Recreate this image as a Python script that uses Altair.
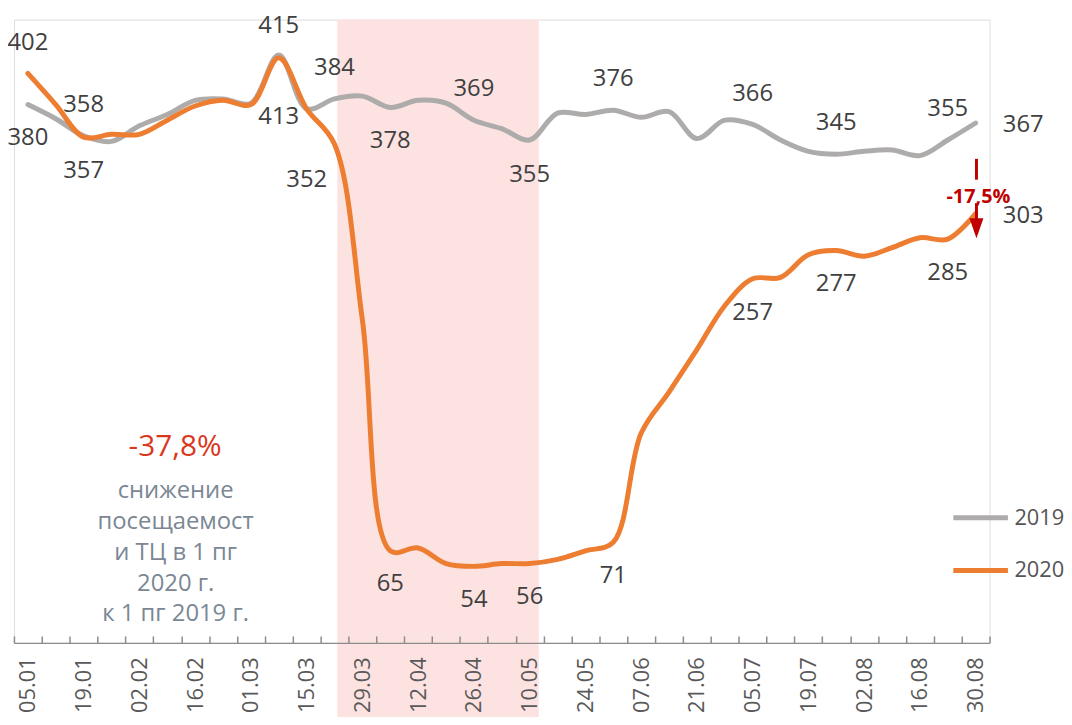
import altair as alt
import pandas as pd

# ---------------- data ----------------
dates = ["05.01", "12.01", "19.01", "26.01", "02.02", "09.02", "16.02", "23.02",
         "01.03", "08.03", "15.03", "22.03", "29.03", "05.04", "12.04", "19.04",
         "26.04", "03.05", "10.05", "17.05", "24.05", "31.05", "07.06", "14.06",
         "21.06", "28.06", "05.07", "12.07", "19.07", "26.07", "02.08", "09.08",
         "16.08", "23.08", "30.08"]

visits_2019 = [380, 370, 358, 354, 365, 373, 383, 384, 381, 415, 377, 384,
               386, 378, 383, 381, 369, 363, 355, 374, 373, 376, 371, 375,
               356, 369, 366, 355, 347, 345, 347, 348, 344, 355, 367]

visits_2020 = [402, 380, 357, 359, 359, 369, 379, 383, 380, 413, 377, 352,
               228, 65, 67, 56, 54, 56, 56, 59, 65, 71, 148, 177,
               207, 238, 257, 258, 274, 277, 273, 279, 286, 285, 303]

series_names = ["2019", "2020"]
labeled_weeks = [0, 2, 9, 11, 13, 16, 18, 21, 26, 29, 33, 34]

lockdown_span = [11.1, 18.33]          # shaded period, in week-index units
summary_value = "-37,8%"
summary_text = "снижение\nпосещаемост\nи ТЦ в 1 пг\n2020 г.\nк 1 пг 2019 г."
end_change = "-17,5%"

# ---------------- layout / style ----------------
FONT = "Open Sans"
W, H = 983, 628
YMAX = 440
GRAY, ORANGE = "#AEABAB", "#ED7D31"
LABEL_COLOR = "#404040"
RED = "#C00000"

# label placement per series: (dx, dy) in pixels
place_2019 = {0: (0, 34), 9: (0, -29), 13: (0, 34), 18: (0, 35), 34: (48, 2)}
place_2020 = {0: (0, -31), 9: (0, 60), 11: (-28, 36), 34: (48, 2)}
default_2019 = (0, -31)
default_2020 = (0, 34)

rows = []
for name, vals in zip(series_names, [visits_2019, visits_2020]):
    for i, v in enumerate(vals):
        rows.append({"idx": i, "date": dates[i], "series": name, "value": v})
df = pd.DataFrame(rows)

lab_rows = []
for name, vals, place, dflt in [("2019", visits_2019, place_2019, default_2019),
                                ("2020", visits_2020, place_2020, default_2020)]:
    for i in labeled_weeks:
        dx, dy = place.get(i, dflt)
        lab_rows.append({"idx": i, "value": vals[i], "text": str(vals[i]),
                         "series": name, "pos": f"{dx}_{dy}"})
labels_df = pd.DataFrame(lab_rows)

xscale = alt.Scale(domain=[-0.5, len(dates) - 0.5], nice=False, zero=False)
yscale = alt.Scale(domain=[0, YMAX], nice=False, zero=True)

tick_axis = alt.Axis(orient="top", offset=-H, labels=False, ticks=True, tickSize=7,
                     tickColor="#8C8C8C", tickWidth=1.5, domain=True,
                     domainColor="#8C8C8C", domainWidth=1.5, grid=False, title=None,
                     values=[i - 0.5 for i in range(len(dates) + 1)], zindex=1)

label_expr = "[" + ",".join(f"'{d}'" for d in dates) + "][datum.value]"
label_axis = alt.Axis(orient="bottom", values=list(range(0, len(dates), 2)),
                      labelExpr=label_expr, labelAngle=270, labelFontSize=22,
                      labelFont=FONT, labelColor="#595959", labelPadding=14,
                      ticks=False, domain=False, grid=False, title=None,
                      labelOverlap=False, labelFlush=False, zindex=1)

# shaded period
shade_df = pd.DataFrame({"x0": [lockdown_span[0]], "x1": [lockdown_span[1]],
                         "y0": [-60], "y1": [YMAX]})
shade = alt.Chart(shade_df).mark_rect(color="#FDE2E2").encode(
    x=alt.X("x0:Q", scale=xscale, axis=tick_axis),
    x2="x1:Q",
    y=alt.Y("y0:Q", scale=yscale, axis=None),
    y2="y1:Q",
)

lines = alt.Chart(df).mark_line(strokeWidth=5, interpolate="catmull-rom",
                                strokeCap="round").encode(
    x=alt.X("idx:Q", scale=xscale, axis=label_axis),
    y=alt.Y("value:Q", scale=yscale, axis=None),
    color=alt.Color("series:N",
                    scale=alt.Scale(domain=series_names, range=[GRAY, ORANGE]),
                    legend=alt.Legend(orient="none", legendX=944, legendY=472,
                                      title=None, symbolType="stroke",
                                      symbolStrokeWidth=5, symbolSize=3025,
                                      labelFontSize=22, labelFont=FONT,
                                      labelColor="#555555", labelOffset=4,
                                      rowPadding=12, padding=0, labelLimit=200)),
    order=alt.Order("idx:Q"),
)

layers = [shade, lines]

for pos in labels_df["pos"].unique():
    dx, dy = (int(v) for v in pos.split("_"))
    layers.append(
        alt.Chart(labels_df[labels_df["pos"] == pos]).mark_text(
            font=FONT, fontSize=24, color=LABEL_COLOR, dx=dx, dy=dy,
            baseline="middle", align="center").encode(
            x=alt.X("idx:Q", scale=xscale, axis=None),
            y=alt.Y("value:Q", scale=yscale, axis=None),
            text="text:N")
    )

# summary annotation
summ_df = pd.DataFrame({"x": [5.28], "y": [138], "t": [summary_value]})
layers.append(alt.Chart(summ_df).mark_text(
    font=FONT, fontSize=30, color="#D9381E", baseline="middle", align="center").encode(
    x=alt.X("x:Q", scale=xscale, axis=None),
    y=alt.Y("y:Q", scale=yscale, axis=None), text="t:N"))

summ2_df = pd.DataFrame({"x": [5.3], "y": [107], "t": [summary_text]})
layers.append(alt.Chart(summ2_df).mark_text(
    font=FONT, fontSize=24, color="#7B8794", baseline="middle", align="center",
    lineBreak="\n", lineHeight=31).encode(
    x=alt.X("x:Q", scale=xscale, axis=None),
    y=alt.Y("y:Q", scale=yscale, axis=None), text="t:N"))

# end-change marker
last = len(dates) - 1
bar_df = pd.DataFrame({"x": [last + 0.03, last + 0.03], "y": [341.7, 310.4],
                       "y2": [327, 295]})
layers.append(alt.Chart(bar_df).mark_rule(color=RED, strokeWidth=3).encode(
    x=alt.X("x:Q", scale=xscale, axis=None),
    y=alt.Y("y:Q", scale=yscale, axis=None), y2="y2:Q"))

head_df = pd.DataFrame({"x": [last + 0.03], "y": [292.7]})
layers.append(alt.Chart(head_df).mark_point(
    shape="M-0.7,-1L0.7,-1L0,1Z", size=400, filled=True, color=RED, opacity=1).encode(
    x=alt.X("x:Q", scale=xscale, axis=None),
    y=alt.Y("y:Q", scale=yscale, axis=None)))

chg_df = pd.DataFrame({"x": [last + 0.1], "y": [315], "t": [end_change]})
layers.append(alt.Chart(chg_df).mark_text(
    font=FONT, fontSize=20, fontWeight="bold", color=RED, baseline="middle",
    align="center").encode(
    x=alt.X("x:Q", scale=xscale, axis=None),
    y=alt.Y("y:Q", scale=yscale, axis=None), text="t:N"))

chart = alt.layer(*layers).resolve_axis(x="independent").properties(
    width=W, height=H,
    autosize=alt.AutoSizeParams(type="none"),
    padding={"left": 6, "top": 9, "right": 75, "bottom": 72},
).configure_view(stroke=None).configure(background="white")

chart.save("out.html", embed_options={"renderer": "svg", "actions": False})
